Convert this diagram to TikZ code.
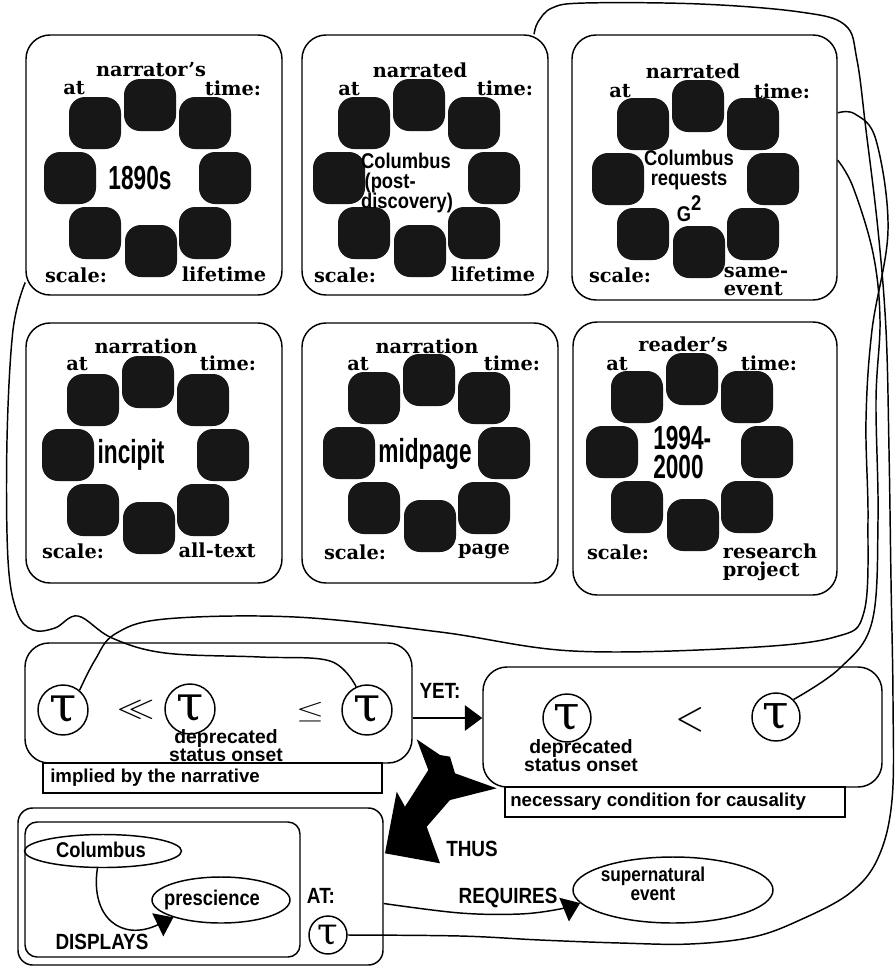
\documentclass[tikz,border=0pt]{standalone}
\usepackage{fontspec}
\newfontfamily\hsans{Liberation Sans}
\newfontfamily\hnarrow[FakeStretch=0.86]{Liberation Sans}
\newfontfamily\hcond[FakeStretch=0.68]{Liberation Sans}
\newfontfamily\labserif{DejaVu Serif}
\usetikzlibrary{shapes.geometric,arrows.meta,fit}
\definecolor{blobgray}{gray}{0.09}

% ring of eight rounded squares around a centre
\newcommand{\blobring}[3]{%
  \foreach \dx/\dy [count=\k] in {1/-73, 56/-55, 76/0, 56/55, 2/73, -54/55, -79/0, -54/-55}
    \node[blob] (#1b\k) at ({#2+\dx},{#3+\dy}) {};
}
% the time variable drawn inside a circle
\newcommand{\tauglyph}[1]{{\labserif\fontsize{#1}{#1}\selectfont τ}}

\begin{document}
\begin{tikzpicture}[x=0.75pt,y=-0.75pt,
  every node/.style={inner sep=0pt},
  frame/.style={draw, line width=1.1pt, rounded corners=18pt, inner sep=0pt},
  smallframe/.style={draw, line width=1.1pt, rounded corners=11pt, inner sep=0pt},
  blob/.style={fill=blobgray, rounded corners=12pt, minimum size=39pt},
  lab/.style={font=\labserif\bfseries\fontsize{14.5}{14.5}\selectfont},
  labl/.style={font=\labserif\bfseries\fontsize{14.5}{13.5}\selectfont, align=left},
  ctext/.style={font=\hcond\bfseries\fontsize{25}{19}\selectfont, align=left},
  csmall/.style={font=\hnarrow\bfseries\fontsize{16}{15}\selectfont},
  taunode/.style={draw, circle, line width=1.1pt, minimum size=37.5pt},
  link/.style={line width=1.1pt},
  capbox/.style={draw, line width=1.1pt, inner sep=0pt},
  captext/.style={font=\hsans\bfseries\fontsize{14}{14}\selectfont, anchor=west},
  note/.style={font=\hsans\bfseries\fontsize{14.5}{11.5}\selectfont, align=center},
  word/.style={font=\hnarrow\bfseries\fontsize{16.5}{16}\selectfont},
  oval/.style={draw, ellipse, line width=1.1pt},
  bigtip/.style={-{Triangle[length=13pt,width=19pt]}},
]
\fill[white] (0,0) rectangle (894,968);
\useasboundingbox (0,0) rectangle (894,968);

% ---------- the six time contexts ----------
\node[frame, fit={(26,35) (282,295)}] (P1) {};
\node[frame, fit={(302,35) (548,295)}] (P2) {};
\node[frame, fit={(572,35) (837,300)}] (P3) {};
\node[frame, fit={(26,323) (282,583)}] (P4) {};
\node[frame, fit={(302,323) (558,583)}] (P5) {};
\node[frame, fit={(573,322) (837,595)}] (P6) {};

\blobring{P1}{149}{178}
\blobring{P2}{418}{178}
\blobring{P3}{697}{179}
\blobring{P4}{147}{455}
\blobring{P5}{428}{453}
\blobring{P6}{691}{452}

% narrator's time
\node[lab] (P1top) at (151,70) {narrator’s};
\node[lab] (P1at) at (74,88) {at};
\node[lab] (P1time) at (233,88) {time:};
\node[lab] (P1scale) at (76,275) {scale:};
\node[lab] (P1unit) at (224,274) {lifetime};
\node[ctext] (P1c) at (140,178) {1890s};

% narrated time, post-discovery
\node[lab] (P2top) at (420,70) {narrated};
\node[lab] (P2at) at (349,89) {at};
\node[lab] (P2time) at (505,88) {time:};
\node[lab] (P2scale) at (345,275) {scale:};
\node[lab] (P2unit) at (493,274) {lifetime};
\node[csmall, align=left] (P2c) at (407,183) {Columbus\\\,(post-\\discovery)};

% narrated time, the request
\node[lab] (P3top) at (693,71) {narrated};
\node[lab] (P3at) at (620,91) {at};
\node[lab] (P3time) at (782,91) {time:};
\node[lab] (P3scale) at (620,275) {scale:};
\node[labl] (P3unit) at (756,281) {same-\\event};
\node[csmall, align=center] (P3c) at (689,186) {Columbus\\requests\\[3pt]G\raisebox{0.55em}{2}};

% narration time, incipit
\node[lab] (P4top) at (146,346) {narration};
\node[lab] (P4at) at (77,364) {at};
\node[lab] (P4time) at (228,363) {time:};
\node[lab] (P4scale) at (73,551) {scale:};
\node[lab] (P4unit) at (217,550) {all-text};
\node[ctext] (P4c) at (131,455) {incipit};

% narration time, midpage
\node[lab] (P5top) at (427,346) {narration};
\node[lab] (P5at) at (358,364) {at};
\node[lab] (P5time) at (512,363) {time:};
\node[lab] (P5scale) at (355,552) {scale:};
\node[lab] (P5unit) at (484,551) {page};
\node[ctext] (P5c) at (425,454) {midpage};

% reader's time
\node[lab] (P6top) at (683,344) {reader’s};
\node[lab] (P6at) at (617,364) {at};
\node[lab] (P6time) at (769,363) {time:};
\node[lab] (P6scale) at (618,552) {scale:};
\node[labl] (P6unit) at (770,562) {research\\project};
\node[ctext, anchor=west] (P6c) at (653,438) {1994-};
\node[ctext, anchor=west] (P6d) at (653,467) {2000};

% ---------- ordering implied by the narrative ----------
\node[frame, fit={(25,643) (412,763)}] (lb) {};
\node[capbox, fit={(43,763) (382,793)}] (lcap) {};
\node[captext] (lcapt) at (50,778) {implied by the narrative};
\node[taunode] (t1) at (63,710) {\tauglyph{37}};
\node[taunode] (t2) at (190,709) {\tauglyph{37}};
\node[taunode] (t3) at (367,710) {\tauglyph{37}};
\node (ll) at (136,710) {\scalebox{2.8}[2.3]{$\ll$}};
\node (le) at (310,712) {\scalebox{2.7}[1.9]{$\leq$}};
\node[note] (t2note) at (226,746) {deprecated\\status onset};

% ---------- condition for causality ----------
\node[frame, fit={(483,667) (882,787)}] (rb) {};
\node[capbox, fit={(505,787) (845,817)}] (rcap) {};
\node[captext] (rcapt) at (510,802) {necessary condition for causality};
\node[taunode, minimum size=36pt] (r1) at (567,718) {\tauglyph{36}};
\node[taunode, minimum size=36pt] (r2) at (776,717) {\tauglyph{36}};
\node (lt) at (690,720) {\scalebox{2.8}[3.2]{$<$}};
\node[note] (r1note) at (581,756) {deprecated\\status onset};

\node[word] (yet) at (440,691) {YET:};
\draw[link, bigtip] ([yshift=-11.25pt]lb.east) -- ([yshift=-11.25pt]lb.east -| rb.west);

% ---------- consequence ----------
\node[smallframe, fit={(18,808) (383,965)}] (ob) {};
\node[draw, line width=1.1pt, rounded corners=9pt, fit={(25,822) (300,957)}] (ib) {};
\node[oval, minimum width=117.75pt, minimum height=24.75pt] (cb) at (103,851) {};
\node[csmall] (cbt) at (101,850) {Columbus};
\node[oval, minimum width=103.5pt, minimum height=34.5pt] (pr) at (221,900) {};
\node[csmall] (prt) at (212,900) {prescience};
\node[word] (disp) at (102,942) {DISPLAYS};
\draw[link, bigtip] (cb.252) .. controls (90,918) and (122,942) .. (pr.200);
\node[word] (at) at (321,896) {AT:};
\node[taunode, minimum size=28.5pt] (tb) at (328,935) {\tauglyph{28}};

\node[oval, minimum width=150pt, minimum height=49.5pt] (se) at (673,890) {};
\node[csmall, align=center, font=\hnarrow\bfseries\fontsize{15}{14}\selectfont] (set) at (653,884) {supernatural\\event};
\node[word] (req) at (508,898) {REQUIRES};
\draw[link, bigtip] plot[smooth, tension=0.6] coordinates {([yshift=-12.75pt]ob.east) (460,913) (520,914) (560,909) (se.188)};

% the broad THUS arrow
\fill[black] (416.7,739.3) -- (440,755) -- (450,756.7) -- (455,773.3) -- (496.7,788.3)
  -- (450,800) -- (426.7,826.7) -- (440,863.3) -- (385,853.3) -- (396.7,791.7)
  -- (405,806.7) -- (428.3,770) -- cycle;
\node[word] (thus) at (472,849) {THUS};

% ---------- coreference lines ----------
% narrator's time to the last tau of the ordering
\draw[link] plot[smooth, tension=0.6] coordinates {([yshift=10pt]P1.south west)
  (13,330) (7,440) (8,560) (17,612) (33,630) (55,628) (78,616) (112,638)
  (165,653) (260,657) (330,661) (t3.115)};
% request time to the first tau of the ordering
\draw[link] plot[smooth, tension=0.6] coordinates {(t1.50) (95,660) (115,634)
  (165,619) (295,617) (440,632) (573,651) (740,648) (835,637) (864,612)
  (868,520) (866,420) (872,330) (888,230) (876,140) (855,114) ([yshift=41pt]P3.east)};
% request time to the later tau of the condition
\draw[link] plot[smooth, tension=0.6] coordinates {(r2.45) (840,668) (872,622)
  (878,520) (876,400) (880,320) (873,253) (853,187) ([yshift=5.5pt]P3.east)};
% post-discovery time to the tau of the consequence
\draw[link] plot[smooth, tension=0.6] coordinates {([xshift=-11pt]P2.north east)
  (538,22) (552,8) (585,3) (700,4) (800,12) (845,25) (857,60) (866,130)
  (878,230) (886,330) (889,450) (891,580) (893,700) (892,800) (878,858)
  (850,893) (800,920) (753,937) (690,944) (620,943) (540,940) (460,936) (tb.east)};
\end{tikzpicture}
\end{document}
